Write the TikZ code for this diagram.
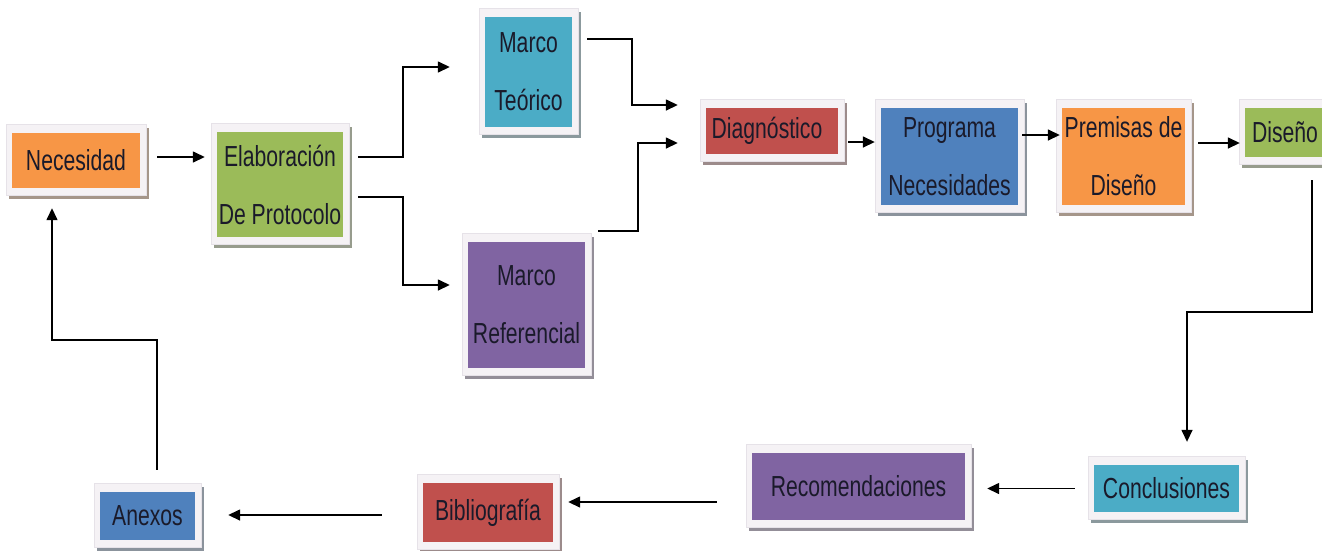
\documentclass[tikz,border=0pt]{standalone}
\usepackage{fontspec}
\setmainfont{Liberation Sans}[FakeStretch=0.73]
\usetikzlibrary{arrows.meta,backgrounds,calc}
\definecolor{cOrange}{HTML}{F79646}
\definecolor{cGreen}{HTML}{9BBB59}
\definecolor{cAqua}{HTML}{4BACC6}
\definecolor{cPurple}{HTML}{8064A2}
\definecolor{cRed}{HTML}{C0504D}
\definecolor{cBlue}{HTML}{4F81BD}
\definecolor{cFrame}{HTML}{F5F2F5}
\definecolor{cFrameLine}{HTML}{E6E2E8}
\definecolor{txt}{HTML}{1A1A2A}
\begin{document}
\begin{tikzpicture}[x=1pt,y=-1pt,
  box/.style={rectangle, inner sep=0pt, text=txt, font=\fontsize{29}{58}\selectfont, align=center},
  arr/.style={draw=black, line width=1.5pt, -{Triangle[length=12pt,width=11pt]}}]
\clip (0,0) rectangle (1322,550);
% boxes
\node[box, fill=cOrange, minimum width=128pt, minimum height=55pt] (nec) at (76,160.5) {Necesidad};
\node[box, fill=cGreen, minimum width=126pt, minimum height=105pt] (elab) at (280,184.5) {Elaboración\\De Protocolo};
\node[box, fill=cAqua, minimum width=87pt, minimum height=110pt] (mt) at (528.5,72) {Marco\\Teórico};
\node[box, fill=cPurple, minimum width=117pt, minimum height=126pt] (mr) at (526.5,305) {Marco\\Referencial};
\node[box, fill=cRed, minimum width=132pt, minimum height=46pt] (diag) at (772,131) {Diagnóstico\hspace*{10pt}};
\node[box, fill=cBlue, minimum width=137pt, minimum height=97pt] (prog) at (949.5,156.5) {Programa\\Necesidades};
\node[box, fill=cOrange, minimum width=123pt, minimum height=97pt] (prem) at (1123.5,156.5) {Premisas de\\Diseño};
\node[box, fill=cGreen, minimum width=80pt, minimum height=49pt] (dis) at (1285,132.5) {Diseño};
\node[box, fill=cAqua, minimum width=145pt, minimum height=47pt] (concl) at (1166.5,488.5) {Conclusiones};
\node[box, fill=cPurple, minimum width=213pt, minimum height=67pt] (recom) at (858.5,486.5) {Recomendaciones};
\node[box, fill=cRed, minimum width=130pt, minimum height=59pt] (bib) at (488,512.5) {Bibliografía};
\node[box, fill=cBlue, minimum width=95pt, minimum height=48pt] (anex) at (147.5,516) {Anexos};
% frames and shadows
\begin{scope}[on background layer]
\fill[white] (0,0) rectangle (1322,550);
\foreach \n/\c in {nec/cOrange, elab/cGreen, mt/cAqua, mr/cPurple, diag/cRed, prog/cBlue, prem/cOrange, dis/cGreen, concl/cAqua, recom/cPurple, bib/cRed, anex/cBlue}{
  \fill[fill=\c!30!black!50!white] ($(\n.north west)+(-3,-5)$) rectangle ($(\n.south east)+(9,11)$);
  \filldraw[fill=cFrame, draw=cFrameLine, line width=0.8pt] ($(\n.north west)+(-5,-8)$) rectangle ($(\n.south east)+(6,7)$);
}
\end{scope}
% connectors
\draw[arr, shorten <=17pt, shorten >=12pt] ([yshift=3.5pt]nec.east) -- ([yshift=3.5pt]nec.east -| elab.west);
\draw[arr, shorten <=15pt, shorten >=35pt] ([yshift=27.5pt]elab.east) -- ++(60,0) |- ([yshift=5pt]mt.west);
\draw[arr, shorten <=15pt, shorten >=18pt] ([yshift=-12.5pt]elab.east) -- ++(60,0) |- ([yshift=20pt]mr.west);
\draw[arr, shorten <=15pt, shorten >=28pt] ([yshift=33pt]mt.east) -- ++(60,0) |- ([yshift=26pt]diag.west);
\draw[arr, shorten <=13pt, shorten >=28pt] ([yshift=74pt]mr.east) -- ++(53,0) |- ([yshift=-12pt]diag.west);
\draw[arr, shorten <=10pt, shorten >=6pt] ([yshift=-11pt]diag.east) -- ([yshift=-11pt]diag.east -| prog.west);
\draw[arr, shorten <=4pt, shorten >=2pt] ([yshift=21.5pt]prog.east) -- ([yshift=21.5pt]prog.east -| prem.west);
\draw[arr, shorten <=13pt, shorten >=5pt] ([yshift=13.5pt]prem.east) -- ([yshift=13.5pt]prem.east -| dis.west);
\draw[arr, shorten <=23pt, shorten >=23pt] ([xshift=27pt]dis.south) -- ++(0,155) -| ([xshift=20.5pt]concl.north);
\draw[arr, shorten <=19pt, shorten >=22pt] (concl.west) -- (concl.west -| recom.east);
\draw[arr, shorten <=35pt, shorten >=15pt] ([yshift=-15.5pt]recom.west) -- ([yshift=-15.5pt]recom.west -| bib.east);
\draw[arr, shorten <=41pt, shorten >=33pt] ([yshift=-2.5pt]bib.west) -- ([yshift=-2.5pt]bib.west -| anex.east);
\draw[arr, shorten <=22pt, shorten >=20pt] ([xshift=9.5pt]anex.north) -- ++(0,-152) -| ([xshift=-24pt]nec.south);
\end{tikzpicture}
\end{document}
